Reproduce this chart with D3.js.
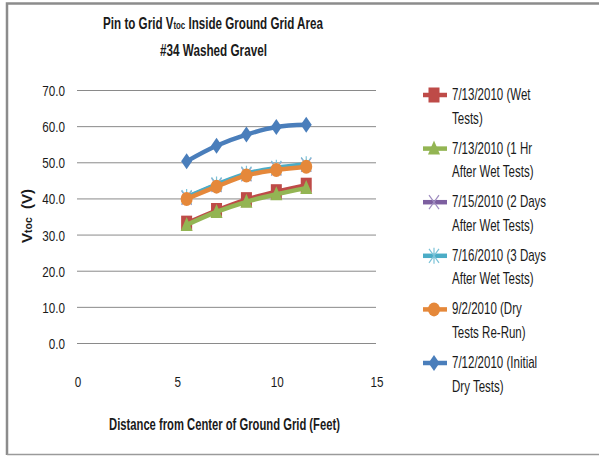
<!DOCTYPE html>
<html>
<head>
<meta charset="utf-8">
<script src="https://cdn.jsdelivr.net/npm/d3@7"></script>
<style>
  html, body { margin: 0; padding: 0; background: #fff; }
  svg { display: block; }
  text { font-family: "Liberation Sans", Arial, sans-serif; fill: #1a1a1a; }
</style>
</head>
<body>
<svg id="chart" width="599" height="456"></svg>
<script>
// Distance from the centre of the ground grid (feet)
const distances = [5.5, 7, 8.5, 10, 11.5];

// Measured Vtoc per test run (volts)
const wetTests       = [33.3, 36.8, 39.8, 42.0, 43.8];
const oneHourAfter   = [32.8, 36.4, 39.2, 41.3, 43.0];
const twoDaysAfter   = [40.3, 43.8, 46.8, 48.4, 49.4];
const threeDaysAfter = [40.5, 44.0, 47.0, 48.6, 49.6];
const dryReRun       = [40.0, 43.4, 46.5, 48.0, 48.9];
const initialDry     = [50.4, 54.7, 57.8, 59.9, 60.5];

const seriesNames = [
  ["7/13/2010  (Wet", "Tests)"],
  ["7/13/2010 (1 Hr", "After Wet Tests)"],
  ["7/15/2010 (2 Days", "After Wet Tests)"],
  ["7/16/2010 (3 Days", "After Wet Tests)"],
  ["9/2/2010 (Dry", "Tests Re-Run)"],
  ["7/12/2010 (Initial", "Dry Tests)"]
];
const seriesValues = [wetTests, oneHourAfter, twoDaysAfter, threeDaysAfter, dryReRun, initialDry];
const seriesColors = ["#BE4B48", "#93B553", "#7D5FA0", "#4BACC6", "#E5883A", "#4A7EBB"];
const seriesMarkers = ["square", "triangle", "x", "star", "circle", "diamond"];

const xTicks = [0, 5, 10, 15];
const yTicks = [0, 10, 20, 30, 40, 50, 60, 70];

const svg = d3.select("#chart");

// horizontally condensed text
function label(parent, txt, px, py, anchor, size, sx, weight) {
  const g = parent.append("g").attr("transform", `translate(${px},${py}) scale(${sx},1)`);
  return g.append("text").attr("text-anchor", anchor || "start")
    .attr("font-size", size).attr("font-weight", weight || "normal").text(txt);
}
// condensed text squeezed to a given overall width
function fitted(parent, px, py, size, width, weight) {
  const g = parent.append("g");
  const t = g.append("text").attr("text-anchor", "middle")
    .attr("font-size", size).attr("font-weight", weight || "bold");
  return { g, t, fit() {
    const w = t.node().getComputedTextLength();
    g.attr("transform", `translate(${px},${py}) scale(${width / w},1)`);
  }};
}

// frame
svg.append("path")
  .attr("d", "M7,455 L7,3.5 L599,3.5")
  .attr("fill", "none").attr("stroke", "#8c8c8c").attr("stroke-width", 2.5);
svg.append("line")
  .attr("x1", 7).attr("x2", 599).attr("y1", 454.5).attr("y2", 454.5)
  .attr("stroke", "#9a9a9a").attr("stroke-width", 1.5);

const x = d3.scaleLinear().domain([0, 15]).range([77, 376]);
const y = d3.scaleLinear().domain([0, 70]).range([343.5, 90.5]);

// horizontal gridlines
svg.append("g").selectAll("line").data(yTicks).join("line")
  .attr("x1", x(0)).attr("x2", x(15))
  .attr("y1", d => y(d)).attr("y2", d => y(d))
  .attr("stroke", "#8a8a8a").attr("stroke-width", 1);

// tick labels
const yLab = svg.append("g");
yTicks.forEach(d => label(yLab, d.toFixed(1), 65, y(d) + 5.5, "end", 15, 0.78));
const xLab = svg.append("g");
xTicks.forEach(d => label(xLab, String(d), x(d) + 1, 387, "middle", 15, 0.78));

// chart title
const title1 = fitted(svg, 213, 28.5, 17, 220);
title1.t.append("tspan").text("Pin to Grid V");
title1.t.append("tspan").attr("font-size", 11.5).text("toc");
title1.t.append("tspan").text(" Inside Ground Grid Area");
title1.fit();
const title2 = fitted(svg, 213.5, 56, 17, 107);
title2.t.text("#34 Washed Gravel");
title2.fit();

// axis titles
const xTitle = fitted(svg, 224.5, 429.5, 16.5, 231);
xTitle.t.text("Distance from Center of Ground Grid (Feet)");
xTitle.fit();

const yt = svg.append("text")
  .attr("transform", "translate(32,216) rotate(-90)")
  .attr("text-anchor", "middle").attr("font-size", 15).attr("font-weight", "bold")
  .attr("font-family", "DejaVu Sans, sans-serif");
yt.append("tspan").text("V");
yt.append("tspan").attr("font-size", 10.5).text("toc");
yt.append("tspan").attr("dx", 4).text("  (V)");

// marker drawing
function drawMarker(g, kind, color) {
  switch (kind) {
    case "square":
      g.append("rect").attr("x", -5.5).attr("y", -7.5).attr("width", 11).attr("height", 15).attr("fill", color);
      break;
    case "triangle":
      g.append("path").attr("d", "M0,-8 L6,6 L-6,6 Z").attr("fill", color);
      break;
    case "x":
      g.append("path").attr("d", "M-5,-7 L5,7 M-5,7 L5,-7").attr("stroke", "#9f8dc0").attr("stroke-width", 1.2);
      break;
    case "star":
      g.append("path").attr("d", "M-5,-7 L5,7 M-5,7 L5,-7 M0,-8 L0,8")
        .attr("stroke", "#7cc3d8").attr("stroke-width", 1.2);
      break;
    case "circle":
      g.append("ellipse").attr("rx", 6).attr("ry", 7).attr("fill", color);
      break;
    case "diamond":
      g.append("path").attr("d", "M0,-8 L5.5,0 L0,8 L-5.5,0 Z").attr("fill", color);
      break;
  }
}

const line = d3.line()
  .x((d, i) => x(distances[i]))
  .y(d => y(d))
  .curve(d3.curveCatmullRom.alpha(0.5));

const plot = svg.append("g");
seriesValues.forEach((vals, s) => {
  const g = plot.append("g");
  g.append("path").datum(vals).attr("d", line)
    .attr("fill", "none").attr("stroke", seriesColors[s]).attr("stroke-width", 4.5)
    .attr("stroke-linejoin", "round").attr("stroke-linecap", "round");
  vals.forEach((v, i) => {
    const m = g.append("g").attr("transform", `translate(${x(distances[i])},${y(v)})`);
    drawMarker(m, seriesMarkers[s], seriesColors[s]);
  });
});

// legend
const legend = svg.append("g");
seriesNames.forEach((lines, s) => {
  const base = 100 + s * 53.6;
  const g = legend.append("g");
  g.append("line").attr("x1", 423).attr("x2", 447).attr("y1", base - 5).attr("y2", base - 5)
    .attr("stroke", seriesColors[s]).attr("stroke-width", 4.5);
  const m = g.append("g").attr("transform", `translate(434,${base - 5})`);
  drawMarker(m, seriesMarkers[s], seriesColors[s]);
  lines.forEach((txt, j) => label(g, txt, 452, base + j * 23.5, "start", 16, 0.72));
});
</script>
</body>
</html>
